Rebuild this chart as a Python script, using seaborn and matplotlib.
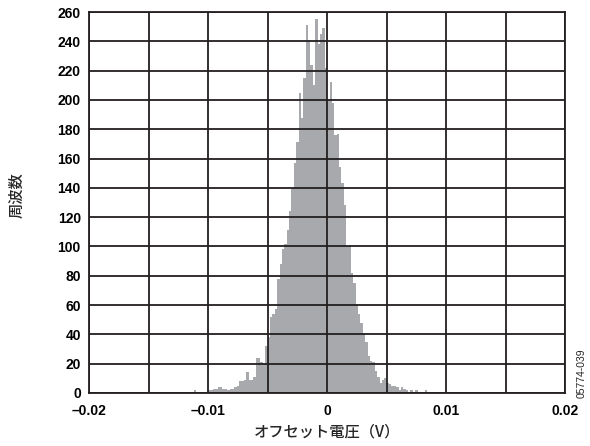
import numpy as np
import pandas as pd
import matplotlib
matplotlib.use("Agg")
import matplotlib.pyplot as plt
import seaborn as sns

# histogram data (bin width 0.2 mV)
bin_start = -0.0116
bin_width = 0.0002
counts = [0, 0, 2, 0, 0, 0, 0, 0, 2, 2,
          3, 3, 4, 4, 3, 3, 2, 3, 3, 4,
          5, 8, 8, 9, 14, 9, 9, 11, 24, 24,
          21, 20, 32, 38, 52, 54, 57, 78, 88, 98,
          102, 111, 124, 140, 157, 171, 205, 188, 215, 251,
          240, 224, 210, 255, 238, 245, 249, 222, 200, 212,
          198, 176, 177, 154, 143, 128, 100, 101, 82, 75,
          61, 54, 48, 41, 35, 25, 22, 21, 15, 11,
          7, 9, 10, 7, 6, 5, 5, 4, 2, 4,
          3, 2, 0, 2, 0, 2, 0, 0, 0, 2, 0]

x_ticks = [-0.02, -0.01, 0, 0.01, 0.02]
x_ticklabels = ["\u20130.02", "\u20130.01", "0", "0.01", "0.02"]
x_grid = [-0.015, -0.005, 0.005, 0.015]
y_ticks = list(range(0, 261, 20))

edges = bin_start + bin_width * np.arange(len(counts) + 1)
df = pd.DataFrame({"offset": (edges[:-1] + edges[1:]) / 2, "n": counts})

sns.set_style("white")
plt.rcParams['font.family'] = ['Liberation Sans', 'Noto Sans CJK JP']

fig = plt.figure(figsize=(5.9, 4.46), dpi=100)
ax = fig.add_axes([0.151, 0.119, 0.807, 0.854])

sns.histplot(data=df, x="offset", weights="n", binwidth=bin_width,
             binrange=(edges[0], edges[-1]), color="#a7a9ac",
             alpha=1, linewidth=0, edgecolor=None, ax=ax)

ax.set_xlim(-0.02, 0.02)
ax.set_ylim(0, 260)
ax.set_xticks(x_ticks)
ax.set_xticklabels(x_ticklabels)
ax.set_xticks(x_grid, minor=True)
ax.set_yticks(y_ticks)
ax.tick_params(which='both', length=0, labelsize=10)
ax.tick_params(axis='x', pad=8)
ax.tick_params(axis='y', pad=6)
for lab in ax.get_xticklabels() + ax.get_yticklabels():
    lab.set_fontweight('bold')
    lab.set_color('black')

ax.set_axisbelow(False)
ax.grid(True, which='both', color="#231f20", linewidth=1.3)
for sp in ax.spines.values():
    sp.set_visible(True)
    sp.set_color("#231f20")
    sp.set_linewidth(1.3)

jp = ['Noto Sans CJK JP', 'Liberation Sans']
ax.set_xlabel("オフセット電圧（V）", fontsize=11, fontweight='medium', family=jp)
ax.xaxis.set_label_coords(0.5, -0.08)
ax.set_ylabel("周波数", fontsize=11, fontweight='medium', family=jp)
ax.yaxis.set_label_coords(-0.134, 0.52)

fig.text(0.985, 0.164, "05774-039", rotation=90, fontsize=7.5,
         ha='center', va='center')

fig.savefig("out.png", dpi=100)
